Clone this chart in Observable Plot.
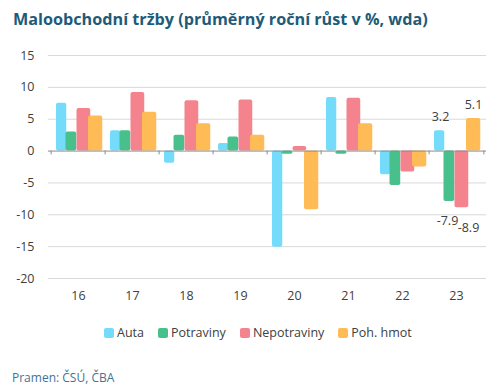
<!DOCTYPE html>
<html>
<head>
<meta charset="utf-8">
<script src="https://cdn.jsdelivr.net/npm/d3@7"></script>
<script src="https://cdn.jsdelivr.net/npm/@observablehq/plot@0.6"></script>
<style>
  html, body { margin: 0; padding: 0; background: #fff; width: 500px; height: 392px; overflow: hidden; font-family: "Open Sans", sans-serif; }
  #title { position: absolute; left: 13px; top: 8px; font-size: 16.2px; font-weight: bold; color: #1e5b79; white-space: nowrap; }
  #chart { position: absolute; left: 0; top: 45px; }
  #legend { position: absolute; left: 104px; top: 324px; display: flex; align-items: center; font-size: 12.5px; color: #404040; }
  #legend .item { display: flex; align-items: center; margin-right: 14px; }
  #legend .sw { width: 10px; height: 10px; border-radius: 2px; margin-right: 3px; }
  #caption { position: absolute; left: 12px; top: 369px; font-size: 12px; color: #3f7396; }
</style>
</head>
<body>
<div id="title">Maloobchodní tržby (průměrný roční růst v %, wda)</div>
<div id="chart"></div>
<div id="legend"></div>
<div id="caption">Pramen: ČSÚ, ČBA</div>
<script>
const years = ["16", "17", "18", "19", "20", "21", "22", "23"];
const seriesNames = ["Auta", "Potraviny", "Nepotraviny", "Poh. hmot"];
const auta = [7.5, 3.2, -1.9, 1.2, -15.1, 8.4, -3.7, 3.2];
const potraviny = [3.0, 3.2, 2.5, 2.2, -0.5, -0.5, -5.4, -7.9];
const nepotraviny = [6.7, 9.2, 7.9, 8.0, 0.7, 8.3, -3.3, -8.9];
const pohHmot = [5.5, 6.1, 4.3, 2.5, -9.2, 4.3, -2.5, 5.1];
const yTicks = [-20, -15, -10, -5, 0, 5, 10, 15];
const labelYear = "23";

const colors = ["#74dbfb", "#47c08b", "#f4838d", "#ffbb55"];
const insets = [[5, 38.75], [14.5, 28.75], [25.5, 14.75], [37, 2.75]];
const labelOffsets = [[-16, -14], [-9, 20], [12, 20], [17, -14]];

const values = [auta, potraviny, nepotraviny, pohHmot];
const rows = values.map((vals, s) => years.map((y, i) => ({year: y, value: vals[i], series: seriesNames[s]})));

const width = 500, height = 270;
const marginLeft = 48, marginRight = 14;
const bw = (width - marginLeft - marginRight) / years.length;

const marks = [
  Plot.ruleY(yTicks.filter(t => t !== 0), {stroke: "#d9d9d9", strokeWidth: 1})
];
rows.forEach((data, s) => {
  marks.push(Plot.barY(data, {
    x: "year", y: "value", fill: colors[s], rx: 2,
    insetLeft: insets[s][0], insetRight: insets[s][1]
  }));
});
marks.push(Plot.ruleY([0], {stroke: "#8c8c8c", strokeWidth: 1}));
marks.push(Plot.ruleX(years, {x: d => d, y1: 0, y2: -0.6, dx: -bw / 2, stroke: "#8c8c8c"}));
marks.push(Plot.ruleX([years[years.length - 1]], {x: d => d, y1: 0, y2: -0.6, dx: bw / 2, stroke: "#8c8c8c"}));
rows.forEach((data, s) => {
  marks.push(Plot.text(data.filter(d => d.year === labelYear), {
    x: "year", y: "value", text: d => d.value.toFixed(1),
    dx: labelOffsets[s][0], dy: labelOffsets[s][1],
    fill: "#404040", fontSize: 12.5
  }));
});

const chart = Plot.plot({
  width, height,
  marginLeft, marginRight, marginTop: 10, marginBottom: 37,
  style: {fontFamily: "Open Sans, sans-serif", fontSize: "12.5px", color: "#404040", background: "transparent"},
  x: {type: "band", domain: years, padding: 0, label: null, tickSize: 0, tickPadding: 13},
  y: {domain: [-20, 15], ticks: yTicks, label: null, tickSize: 0, tickPadding: 14, tickFormat: d => String(d)},
  marks
});
document.getElementById("chart").appendChild(chart);

const legend = document.getElementById("legend");
seriesNames.forEach((name, s) => {
  const item = document.createElement("div");
  item.className = "item";
  const sw = document.createElement("div");
  sw.className = "sw";
  sw.style.background = colors[s];
  const t = document.createElement("span");
  t.textContent = name;
  item.appendChild(sw);
  item.appendChild(t);
  legend.appendChild(item);
});
</script>
</body>
</html>
